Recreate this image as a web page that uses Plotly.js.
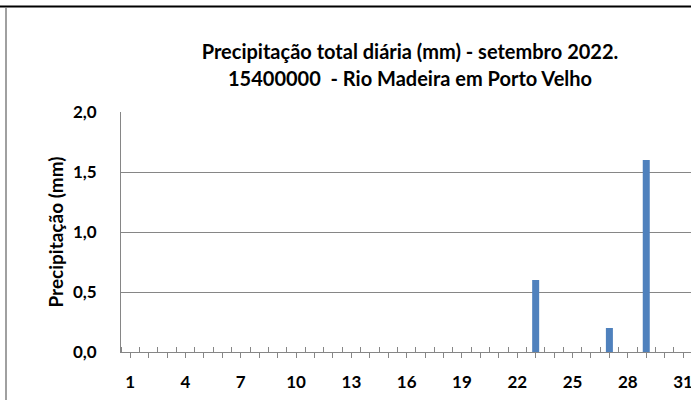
<!DOCTYPE html>
<html>
<head>
<meta charset="utf-8">
<script src="https://cdn.plot.ly/plotly-3.0.1.min.js"></script>
<style>html,body{margin:0;padding:0;background:#fff;}#chart{width:691px;height:400px;}</style>
</head>
<body>
<div id="chart"></div>
<script>
// Data
const days = [1,2,3,4,5,6,7,8,9,10,11,12,13,14,15,16,17,18,19,20,21,22,23,24,25,26,27,28,29,30,31];
const precip = [0,0,0,0,0,0,0,0,0,0,0,0,0,0,0,0,0,0,0,0,0,0,0.6,0,0,0,0.2,0,1.6,0,0];
const labeledDays = [1,4,7,10,13,16,19,22,25,28,31];
const yTicks = [0,0.5,1.0,1.5,2.0];
const titleLine1 = "Precipitação total diária (mm) - setembro 2022.";
const titleLine2 = "15400000  - Rio Madeira em Porto Velho";
const yTitle = "Precipitação (mm)";

const FONT = "Lato, 'Open Sans', sans-serif";
const W = 691, H = 400;
const mL = 121, mR = 0, mT = 112, mB = 48;
const pw = W - mL - mR, ph = H - mT - mB;
const px2x = p => (p - mL) / pw;
const py2y = p => (H - mB - p) / ph;

const tickText = days.map(d => labeledDays.includes(d) ? "<b>" + d + "</b>" : "");

const trace = {
  type: 'bar',
  x: days,
  y: precip,
  width: 0.38,
  marker: {color: '#4F81BD', line: {width: 0}},
  hoverinfo: 'x+y'
};

const layout = {
  width: W, height: H,
  margin: {l: mL, r: mR, t: mT, b: mB, pad: 0},
  paper_bgcolor: '#ffffff',
  plot_bgcolor: '#ffffff',
  separators: ',.',
  font: {family: FONT, color: '#000000'},
  showlegend: false,
  title: {
    text: "<b>" + titleLine1 + "</b>",
    font: {family: FONT, size: 20, color: '#000000'},
    xref: 'container', x: 410 / W, xanchor: 'center',
    yref: 'container', y: 1 - 52 / H, yanchor: 'middle'
  },
  annotations: [{
    text: "<b>" + titleLine2 + "</b>",
    xref: 'paper', yref: 'paper',
    x: px2x(410), y: py2y(78),
    xanchor: 'center', yanchor: 'middle',
    showarrow: false,
    font: {family: FONT, size: 20, color: '#000000'}
  }],
  xaxis: {
    range: [0.5, 0.5 + pw / 18.43],
    tickmode: 'array',
    tickvals: days,
    ticktext: tickText,
    ticks: 'outside', ticklen: 5, tickwidth: 1, tickcolor: '#868686',
    minor: {tick0: 0.5, dtick: 1, ticks: 'inside', ticklen: 5, tickwidth: 1, tickcolor: '#868686', showgrid: false},
    showline: true, linecolor: '#868686', linewidth: 1,
    showgrid: false, zeroline: false,
    tickfont: {family: FONT, size: 17, color: '#000000'},
    ticklabelstandoff: 10,
    ticklabeloverflow: 'allow',
    fixedrange: true
  },
  yaxis: {
    range: [0, 2],
    tickmode: 'array',
    tickvals: yTicks,
    ticktext: yTicks.map(v => "<b>" + v.toFixed(1).replace('.', ',') + "</b>"),
    ticks: '',
    showline: true, linecolor: '#868686', linewidth: 1,
    showgrid: true, gridcolor: '#868686', gridwidth: 1,
    zeroline: false,
    tickfont: {family: FONT, size: 17, color: '#000000'},
    ticklabelstandoff: 20,
    title: {text: "<b>" + yTitle + "</b>", font: {family: FONT, size: 19, color: '#000000'}, standoff: 4},
    fixedrange: true
  },
  shapes: [
    {type: 'line', xref: 'paper', yref: 'paper', x0: px2x(0), x1: px2x(W), y0: py2y(6.5), y1: py2y(6.5),
     line: {color: '#000000', width: 2}},
    {type: 'line', xref: 'paper', yref: 'paper', x0: px2x(6), x1: px2x(6), y0: py2y(8), y1: py2y(H + 2),
     line: {color: '#a0a0a0', width: 2}}
  ]
};

Plotly.newPlot('chart', [trace], layout, {displayModeBar: false, staticPlot: true});
</script>
</body>
</html>
